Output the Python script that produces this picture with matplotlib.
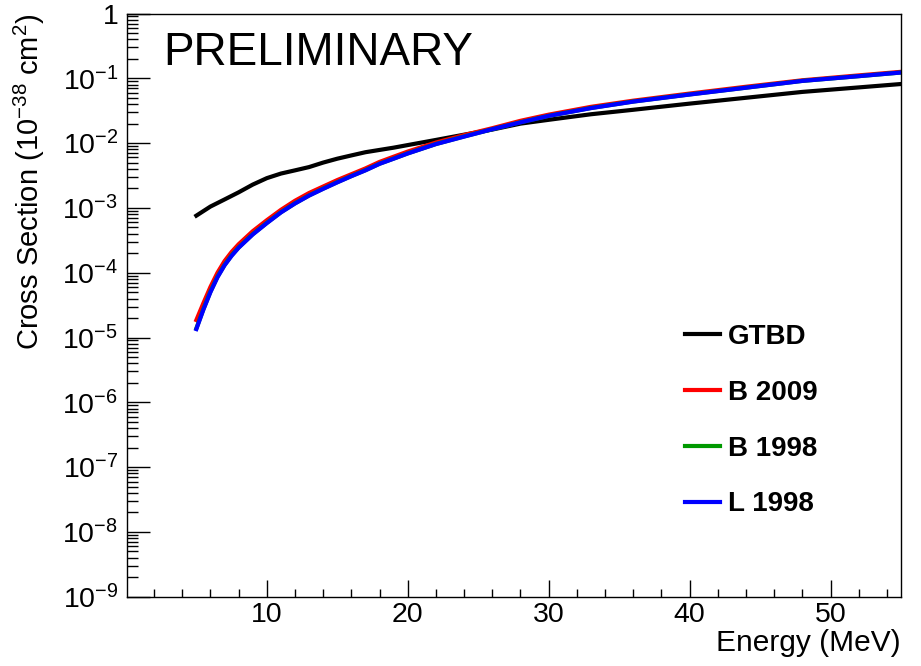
import numpy as np
import matplotlib
matplotlib.use('Agg')
import matplotlib.pyplot as plt
from matplotlib.ticker import FixedLocator, MultipleLocator, NullFormatter

plt.rcParams['font.family'] = ['Liberation Sans', 'DejaVu Sans']
plt.rcParams['mathtext.fontset'] = 'custom'
plt.rcParams['mathtext.rm'] = 'Liberation Sans'
plt.rcParams['mathtext.it'] = 'Liberation Sans:italic'
plt.rcParams['mathtext.bf'] = 'Liberation Sans:bold'

# cross sections in units of 1e-38 cm^2 vs neutrino energy (MeV)
energy_gtbd = [5, 6, 7, 8, 9, 10, 11, 12, 13, 14, 15, 16, 17, 18, 19, 20,
               22, 24, 26, 28, 30, 33, 36, 40, 44, 48, 52, 55]
xsec_gtbd = [7.6e-4, 1.05e-3, 1.35e-3, 1.74e-3, 2.29e-3, 2.88e-3, 3.39e-3, 3.80e-3,
             4.27e-3, 5.01e-3, 5.75e-3, 6.46e-3, 7.24e-3, 7.85e-3, 8.51e-3, 9.33e-3,
             1.12e-2, 1.35e-2, 1.62e-2, 2.0e-2, 2.29e-2, 2.79e-2, 3.27e-2, 4.07e-2,
             5.01e-2, 6.17e-2, 7.24e-2, 8.17e-2]

energy = [5, 5.5, 6, 6.5, 7, 7.5, 8, 9, 10, 11, 12, 13, 14, 15, 16, 17, 18, 19, 20,
          22, 24, 26, 28, 30, 33, 36, 40, 44, 48, 52, 55]
xsec_b2009 = [1.86e-5, 3.39e-5, 6.03e-5, 1.0e-4, 1.51e-4, 2.09e-4, 2.75e-4, 4.37e-4,
              6.46e-4, 9.33e-4, 1.29e-3, 1.70e-3, 2.14e-3, 2.69e-3, 3.31e-3, 4.07e-3,
              5.13e-3, 6.17e-3, 7.41e-3, 1.02e-2, 1.33e-2, 1.70e-2, 2.21e-2, 2.75e-2,
              3.63e-2, 4.52e-2, 5.82e-2, 7.41e-2, 9.33e-2, 0.111, 0.126]
xsec_b1998 = [1.38e-5, 2.75e-5, 5.13e-5, 8.71e-5, 1.32e-4, 1.86e-4, 2.46e-4, 3.94e-4,
              5.89e-4, 8.59e-4, 1.18e-3, 1.56e-3, 1.99e-3, 2.50e-3, 3.11e-3, 3.83e-3,
              4.82e-3, 5.78e-3, 6.96e-3, 9.70e-3, 1.27e-2, 1.64e-2, 2.10e-2, 2.64e-2,
              3.49e-2, 4.39e-2, 5.65e-2, 7.18e-2, 9.14e-2, 0.108, 0.123]
xsec_l1998 = [1.35e-5, 2.69e-5, 5.01e-5, 8.51e-5, 1.30e-4, 1.82e-4, 2.43e-4, 3.89e-4,
              5.82e-4, 8.51e-4, 1.17e-3, 1.55e-3, 1.97e-3, 2.48e-3, 3.09e-3, 3.80e-3,
              4.79e-3, 5.75e-3, 6.92e-3, 9.66e-3, 1.26e-2, 1.64e-2, 2.09e-2, 2.63e-2,
              3.47e-2, 4.37e-2, 5.62e-2, 7.16e-2, 9.12e-2, 0.108, 0.123]

series_names = ['GTBD', 'B 2009', 'B 1998', 'L 1998']
ytick_values = [1e-9, 1e-8, 1e-7, 1e-6, 1e-5, 1e-4, 1e-3, 1e-2, 1e-1, 1]
ytick_labels = ['$\\mathregular{10^{-9}}$', '$\\mathregular{10^{-8}}$', '$\\mathregular{10^{-7}}$',
                '$\\mathregular{10^{-6}}$', '$\\mathregular{10^{-5}}$', '$\\mathregular{10^{-4}}$',
                '$\\mathregular{10^{-3}}$', '$\\mathregular{10^{-2}}$', '$\\mathregular{10^{-1}}$', '1']

fig = plt.figure(figsize=(9.21, 6.66), dpi=100)
ax = fig.add_axes([0.1382, 0.104, 0.8401, 0.8757])

lw = 3.0
ax.plot(energy_gtbd, xsec_gtbd, color='black', lw=lw, label=series_names[0])
ax.plot(energy, xsec_b2009, color='#ff0000', lw=lw, label=series_names[1])
ax.plot(energy, xsec_b1998, color='#009900', lw=lw, label=series_names[2])
ax.plot(energy, xsec_l1998, color='#0000ff', lw=lw, label=series_names[3])

ax.set_yscale('log')
ax.set_xlim(0.1, 55)
ax.set_ylim(1e-9, 1)

ax.xaxis.set_major_locator(MultipleLocator(10))
ax.xaxis.set_minor_locator(MultipleLocator(2))
ax.yaxis.set_major_locator(FixedLocator(ytick_values))
ax.set_yticklabels(ytick_labels)
minor_y = [m * 10.0 ** e for e in range(-9, 0) for m in range(2, 10)]
ax.yaxis.set_minor_locator(FixedLocator(minor_y))
ax.yaxis.set_minor_formatter(NullFormatter())

ax.tick_params(axis='both', which='both', direction='in', top=False, right=False, width=1.0,
               labelsize=20.5)
ax.tick_params(axis='x', which='major', length=12, pad=3.6)
ax.tick_params(axis='x', which='minor', length=6)
ax.tick_params(axis='y', which='major', length=16.5, pad=6.5)
ax.tick_params(axis='y', which='minor', length=8)
for s in ax.spines.values():
    s.set_linewidth(1.0)

ax.set_xlabel('Energy (MeV)', fontsize=21.5, loc='right')
ax.xaxis.set_label_coords(1.0, -0.056)
ax.set_ylabel('Cross Section (10$^{\\mathregular{-38}}$ cm$^{\\mathregular{2}}$)', fontsize=21, loc='top')
ax.yaxis.set_label_coords(-0.104, 1.0)

fig.text(0.177, 0.9024, 'PRELIMINARY', fontsize=33, ha='left', va='baseline')

ax.legend(loc='upper left', bbox_to_anchor=(0.7208, 0.4675), frameon=False,
          prop={'weight': 'bold', 'size': 20}, handlelength=1.26, handletextpad=0.3,
          labelspacing=1.07, borderpad=0, borderaxespad=0)

fig.savefig('out.png', dpi=100)
